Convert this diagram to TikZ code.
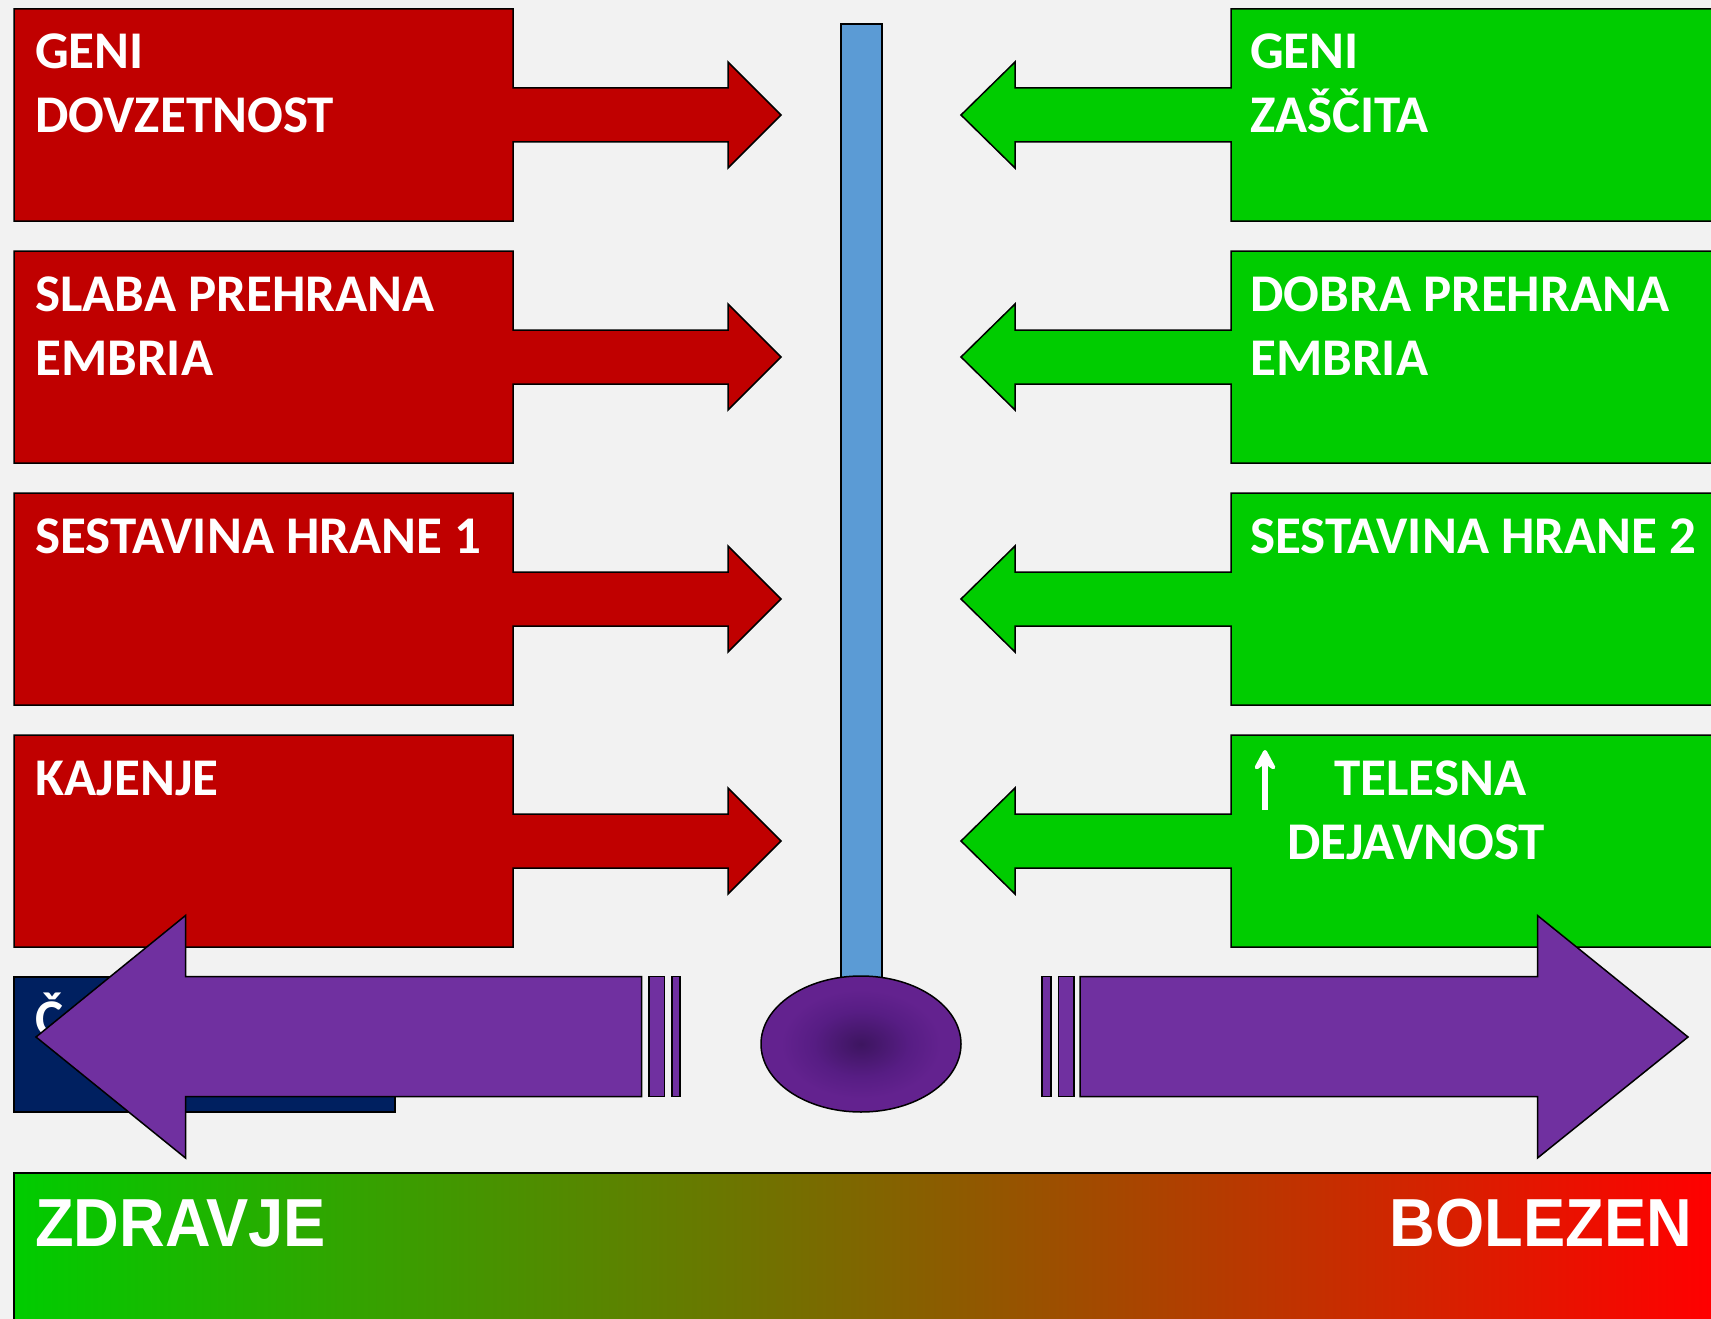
\documentclass[tikz,border=0pt]{standalone}
\usepackage{fontspec}
\setmainfont{Carlito}
\newfontfamily\arialfont{Liberation Sans}
\usetikzlibrary{arrows.meta}
\definecolor{bg}{HTML}{F2F2F2}
\definecolor{cred}{HTML}{C00000}
\definecolor{cgreen}{HTML}{00CC00}
\definecolor{cblue}{HTML}{5B9BD5}
\definecolor{cpurple}{HTML}{7030A0}
\definecolor{cnavy}{HTML}{002060}
\definecolor{ecin}{HTML}{3D1560}
\definecolor{ecmid}{HTML}{571D84}
\definecolor{ecout}{HTML}{63228F}
\definecolor{bargreen}{HTML}{00CC00}
\definecolor{barred}{HTML}{FF0000}
\pgfdeclareradialshading{ellshade}{\pgfpoint{0bp}{0bp}}{color(0bp)=(ecin); color(12bp)=(ecmid); color(20bp)=(ecout); color(50bp)=(ecout)}
\tikzset{
  outl/.style={draw=black, line width=1.5pt, line join=miter},
  redsh/.style={outl, fill=cred},
  greensh/.style={outl, fill=cgreen},
  purplesh/.style={outl, fill=cpurple},
  lbl/.style={text=white, inner sep=0pt, anchor=base west, font=\bfseries\fontsize{53}{64}\selectfont},
  biglbl/.style={text=white, inner sep=0pt, xscale=0.93, font=\arialfont\bfseries\fontsize{68}{80}\selectfont}
}
\newcommand\redcall[1]{\draw[redsh] (14,#1) -- (513,#1) -- (513,#1+79) -- (728,#1+79) -- (728,#1+53) -- (781,#1+106) -- (728,#1+159) -- (728,#1+133) -- (513,#1+133) -- (513,#1+212) -- (14,#1+212) -- cycle;}
\newcommand\greencall[1]{\draw[greensh] (1725,#1) -- (1231,#1) -- (1231,#1+79) -- (1015,#1+79) -- (1015,#1+53) -- (961,#1+106) -- (1015,#1+159) -- (1015,#1+133) -- (1231,#1+133) -- (1231,#1+212) -- (1725,#1+212);}
\begin{document}
\begin{tikzpicture}[x=1pt,y=-1pt]
\useasboundingbox (0,0) rectangle (1711,1319);
\clip (0,0) rectangle (1711,1319);
\fill[bg] (0,0) rectangle (1711,1319);

% red callouts
\redcall{9}
\redcall{251}
\redcall{493}
\redcall{735}
\node[lbl] (r1a) at (35,69) {GENI};
\node[lbl] (r1b) at (35,133) {DOVZETNOST};
\node[lbl] (r2a) at (35,311) {SLABA PREHRANA};
\node[lbl] (r2b) at (35,375) {EMBRIA};
\node[lbl] (r3a) at (35,553) {SESTAVINA HRANE 1};
\node[lbl] (r4a) at (35,795) {KAJENJE};

% green callouts
\greencall{9}
\greencall{251}
\greencall{493}
\greencall{735}
\node[lbl] (g1a) at (1250,69) {GENI};
\node[lbl] (g1b) at (1250,133) {ZAŠČITA};
\node[lbl] (g2a) at (1250,311) {DOBRA PREHRANA};
\node[lbl] (g2b) at (1250,375) {EMBRIA};
\node[lbl] (g3a) at (1250,553) {SESTAVINA HRANE 2};
\node[lbl] (g4a) at (1334,795) {TELESNA};
\node[lbl] (g4b) at (1287,859) {DEJAVNOST};
\coordinate (upA) at (1265,810);
\coordinate (upB) at (1265,750);
\draw[white, line width=5.5pt, -{Stealth[length=26pt,width=28pt,inset=10pt,round]}] (upA) -- (upB);

% thermometer
\draw[outl, fill=cblue] (841,24) rectangle (882,1000);
\shade[shading=ellshade] (861,1044) ellipse [x radius=100, y radius=68];
\draw[outl] (861,1044) ellipse [x radius=100, y radius=68];

% navy box
\draw[outl, fill=cnavy] (14,977) rectangle (395,1112);
\node[lbl] (nv) at (35,1036) {Č};

% purple arrows
\draw[purplesh] (36,1037) -- (185.5,915.5) -- (185.5,976.6) -- (641.6,976.6) -- (641.6,1096.7) -- (185.5,1096.7) -- (185.5,1158) -- cycle;
\draw[purplesh] (649,976.6) rectangle (664.5,1096.7);
\draw[purplesh] (672,976.6) rectangle (680,1096.7);
\draw[purplesh] (1688,1037) -- (1537.5,915.5) -- (1537.5,976.6) -- (1080,976.6) -- (1080,1096.7) -- (1537.5,1096.7) -- (1537.5,1158) -- cycle;
\draw[purplesh] (1042,976.6) rectangle (1051,1096.7);
\draw[purplesh] (1058.5,976.6) rectangle (1074,1096.7);

% bottom bar
\shade[left color=bargreen, right color=barred] (14,1173) rectangle (1711,1330);
\draw[black, line width=1.5pt] (14,1330) -- (14,1173) -- (1725,1173);
\node[biglbl, anchor=base west] (zd) at (35,1246) {ZDRAVJE};
\node[biglbl, anchor=base east] (bo) at (1692,1246) {BOLEZEN};
\end{tikzpicture}
\end{document}
